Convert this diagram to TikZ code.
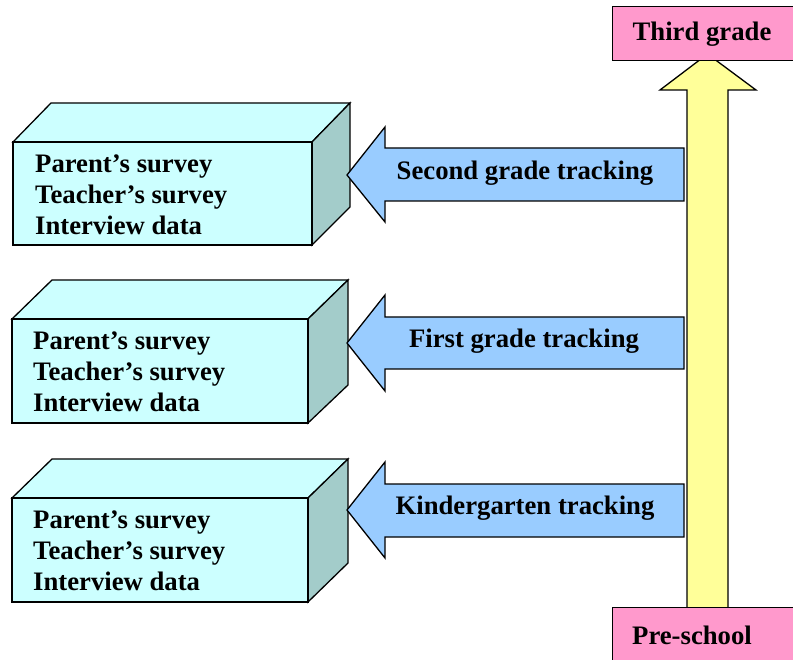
\documentclass[tikz,border=0pt]{standalone}
\usepackage{fontspec}
\setmainfont{Liberation Serif}
\definecolor{cyanface}{HTML}{CCFFFF}
\definecolor{cyanside}{HTML}{A3CCCA}
\definecolor{bluearrow}{HTML}{99CCFF}
\definecolor{yellowarrow}{HTML}{FFFF99}
\definecolor{pinkbox}{HTML}{FF99CC}
\tikzset{
  outline/.style={draw=black, line width=1.3pt, line join=miter},
  boxtext/.style={anchor=west, inner sep=0pt, align=left, font=\fontsize{26.7}{31}\selectfont\bfseries},
  arrowtext/.style={inner sep=0pt, font=\fontsize{26.7}{31}\selectfont\bfseries},
  gradebox/.style={outline, fill=pinkbox, minimum width=190pt, minimum height=54pt, inner sep=0pt}
}
\begin{document}
\begin{tikzpicture}[x=1pt,y=-1pt]
\useasboundingbox (0,0) rectangle (793,660);
% yellow vertical arrow
\draw[outline, fill=yellowarrow] (687,610) -- (687,90) -- (660,90) -- (707.5,54) -- (756,90) -- (728,90) -- (728,610) -- cycle;
% grade boxes
\node[gradebox, anchor=north west] (third) at (612,6) {};
\node[arrowtext] (thirdtext) at (702,34) {Third grade};
\node[gradebox, anchor=north west, minimum height=60pt] (pre) at (612,607) {};
\node[arrowtext, anchor=west] (pretext) at (632,635) {Pre-school};
% box 1
\draw[outline, fill=cyanface] (13,142) -- (51,103) -- (350,103) -- (312,142) -- cycle;
\draw[outline, fill=cyanside] (312,142) -- (350,103) -- (350,207) -- (312,245) -- cycle;
\draw[outline, fill=cyanface] (13,142) rectangle (312,245);
\node[boxtext] (b1) at (35,195) {Parent’s survey\\Teacher’s survey\\Interview data};
% box 2
\draw[outline, fill=cyanface] (12,319) -- (52,280) -- (348,280) -- (308,319) -- cycle;
\draw[outline, fill=cyanside] (308,319) -- (348,280) -- (348,385) -- (308,423) -- cycle;
\draw[outline, fill=cyanface] (12,319) rectangle (308,423);
\node[boxtext] (b2) at (33,372) {Parent’s survey\\Teacher’s survey\\Interview data};
% box 3
\draw[outline, fill=cyanface] (12,498) -- (52,459) -- (348,459) -- (308,498) -- cycle;
\draw[outline, fill=cyanside] (308,498) -- (348,459) -- (348,563) -- (308,602) -- cycle;
\draw[outline, fill=cyanface] (12,498) rectangle (308,602);
\node[boxtext] (b3) at (33,551) {Parent’s survey\\Teacher’s survey\\Interview data};
% blue arrows
\draw[outline, fill=bluearrow] (684,148) -- (385,148) -- (385,127) -- (347,175) -- (385,222) -- (385,201) -- (684,201) -- cycle;
\node[arrowtext] (a1) at (525,173) {Second grade tracking};
\draw[outline, fill=bluearrow] (684,317) -- (385,317) -- (385,295) -- (347,343) -- (385,391) -- (385,369) -- (684,369) -- cycle;
\node[arrowtext] (a2) at (524,341) {First grade tracking};
\draw[outline, fill=bluearrow] (684,484) -- (385,484) -- (385,462) -- (347,510) -- (385,558) -- (385,537) -- (684,537) -- cycle;
\node[arrowtext] (a3) at (525,508) {Kindergarten tracking};
\end{tikzpicture}
\end{document}
